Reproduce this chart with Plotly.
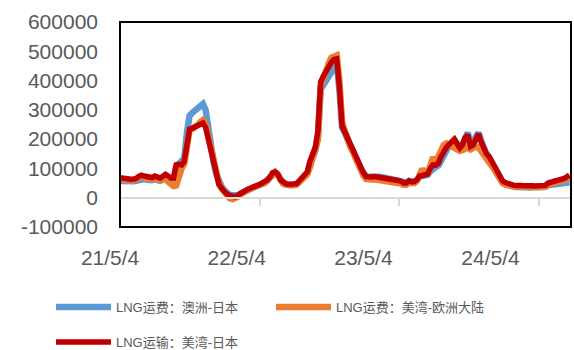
import pandas as pd
import plotly.graph_objects as go

# Weekly LNG freight rates (USD/day), starting 2021-05-04
week_dates = pd.date_range("2021-05-04", periods=169, freq="7D")

aus_japan = [
    57000, 56000, 55000, 54000, 55000, 56000, 58000, 62000, 66000, 64000,
    61000, 59000, 60000, 63000, 61000, 58000, 62000, 68000, 64000, 60000,
    60000, 105000, 115000, 118000, 135000, 220000, 280000, 290000, 298000, 305000,
    315000, 320000, 300000, 230000, 170000, 120000, 80000, 55000, 38000, 25000,
    15000, 10000, 8000, 6000, 8000, 14000, 19000, 24000, 29000, 33000,
    37000, 40000, 43000, 47000, 50000, 58000, 68000, 82000, 86000, 78000,
    58000, 50000, 46000, 43000, 43000, 44000, 46000, 54000, 64000, 72000,
    82000, 115000, 140000, 160000, 210000, 370000, 385000, 398000, 412000, 428000,
    445000, 458000, 370000, 240000, 222000, 203000, 183000, 168000, 143000, 120000,
    98000, 84000, 73000, 72000, 73000, 74000, 73000, 72000, 70000, 68000,
    67000, 65000, 64000, 62000, 60000, 57000, 52000, 51000, 57000, 54000,
    55000, 60000, 72000, 74000, 76000, 78000, 90000, 100000, 105000, 110000,
    130000, 150000, 165000, 178000, 185000, 195000, 182000, 172000, 182000, 210000,
    222000, 180000, 182000, 208000, 222000, 195000, 165000, 148000, 135000, 118000,
    98000, 82000, 65000, 52000, 46000, 42000, 40000, 38000, 37000, 38000,
    37000, 36000, 36000, 35000, 35000, 34000, 34000, 33000, 35000, 37000,
    42000, 43000, 45000, 46000, 47000, 48000, 50000, 51000, 53000,
]

usg_europe = [
    62000, 61000, 60000, 58000, 59000, 60000, 62000, 68000, 72000, 70000,
    66000, 64000, 64000, 68000, 66000, 60000, 62000, 66000, 55000, 45000,
    40000, 42000, 80000, 100000, 115000, 170000, 230000, 235000, 240000, 248000,
    258000, 265000, 250000, 210000, 160000, 118000, 75000, 48000, 32000, 20000,
    8000, -2000, -5000, -3000, 3000, 12000, 18000, 23000, 28000, 33000,
    37000, 40000, 43000, 47000, 50000, 58000, 68000, 84000, 87000, 78000,
    56000, 48000, 44000, 42000, 42000, 43000, 45000, 52000, 62000, 72000,
    80000, 105000, 135000, 160000, 200000, 380000, 410000, 435000, 458000, 478000,
    485000, 486000, 400000, 258000, 228000, 198000, 176000, 158000, 135000, 112000,
    92000, 76000, 64000, 61000, 62000, 63000, 62000, 61000, 60000, 58000,
    57000, 55000, 54000, 52000, 50000, 48000, 44000, 44000, 50000, 48000,
    50000, 58000, 75000, 99000, 80000, 82000, 110000, 138000, 120000, 140000,
    165000, 180000, 185000, 180000, 178000, 175000, 165000, 160000, 162000, 168000,
    172000, 165000, 170000, 175000, 172000, 160000, 150000, 140000, 128000, 115000,
    95000, 80000, 62000, 50000, 45000, 42000, 40000, 38000, 37000, 40000,
    38000, 37000, 38000, 36000, 37000, 36000, 36000, 35000, 37000, 39000,
    45000, 47000, 50000, 53000, 55000, 58000, 60000, 63000, 66000,
]

usg_japan = [
    68000, 66000, 64000, 62000, 63000, 64000, 66000, 73000, 77000, 74000,
    71000, 68000, 69000, 74000, 71000, 67000, 73000, 80000, 74000, 67000,
    67000, 112000, 114000, 112000, 124000, 180000, 234000, 237000, 241000, 247000,
    254000, 255000, 240000, 200000, 150000, 110000, 68000, 45000, 32000, 20000,
    12000, 8000, 5000, 3000, 8000, 15000, 20000, 25000, 30000, 35000,
    38000, 41000, 44000, 48000, 51000, 60000, 70000, 85000, 88000, 80000,
    60000, 52000, 48000, 45000, 45000, 46000, 48000, 58000, 70000, 78000,
    88000, 125000, 150000, 172000, 230000, 395000, 415000, 432000, 450000, 462000,
    472000, 474000, 380000, 245000, 225000, 205000, 185000, 170000, 145000, 122000,
    100000, 85000, 72000, 70000, 71000, 72000, 71000, 70000, 69000, 67000,
    66000, 64000, 63000, 61000, 59000, 56000, 50000, 50000, 58000, 54000,
    55000, 62000, 74000, 76000, 79000, 81000, 100000, 112000, 111000, 118000,
    140000, 160000, 172000, 182000, 190000, 200000, 185000, 170000, 180000, 205000,
    215000, 175000, 180000, 205000, 218000, 190000, 165000, 150000, 140000, 125000,
    105000, 90000, 72000, 58000, 52000, 48000, 45000, 43000, 42000, 44000,
    42000, 41000, 42000, 40000, 41000, 40000, 40000, 38000, 40000, 42000,
    50000, 52000, 55000, 58000, 60000, 63000, 66000, 71000, 77000,
]

series_names = ["LNG运费：澳洲-日本", "LNG运费：美湾-欧洲大陆", "LNG运输：美湾-日本"]
series_colors = ["#5B9BD5", "#ED7D31", "#C00000"]

y_ticks = [-100000, 0, 100000, 200000, 300000, 400000, 500000, 600000]
y_tick_text = ["-100000", "0", "100000", "200000", "300000", "400000", "500000", "600000"]

x_tick_dates = ["2021-05-04", "2022-05-04", "2023-05-04", "2024-05-04"]
x_tick_text = ["21/5/4", "22/5/4", "23/5/4", "24/5/4"]

GREY = "#595959"
TICK_FONT = dict(family="Liberation Sans, Arial, sans-serif", size=21, color=GREY)
LEGEND_FONT = dict(family="Liberation Sans, Noto Sans CJK SC, sans-serif", size=13, color=GREY)

# page layout in pixels
W, H = 574, 350
M_L, M_R, M_T, M_B = 100, 3, 22, 123
PLOT_LEFT = 120
x_dom_start = (PLOT_LEFT - M_L) / (W - M_L - M_R)

fig = go.Figure()
fig.add_trace(go.Scatter(x=week_dates, y=aus_japan, name=series_names[0], mode="lines",
                         line=dict(color=series_colors[0], width=6.5), legend="legend"))
fig.add_trace(go.Scatter(x=week_dates, y=usg_europe, name=series_names[1], mode="lines",
                         line=dict(color=series_colors[1], width=6.5), legend="legend"))
fig.add_trace(go.Scatter(x=week_dates, y=usg_japan, name=series_names[2], mode="lines",
                         line=dict(color=series_colors[2], width=5.5), legend="legend2"))
# carrier trace so the date-label axis is laid out
fig.add_trace(go.Scatter(x=[x_tick_dates[1]], y=[None], xaxis="x2", yaxis="y",
                         showlegend=False, hoverinfo="skip"))

# plot frame
fig.add_shape(type="rect", xref="x domain", yref="y domain", x0=0, x1=1, y0=0, y1=1,
              line=dict(color="black", width=2), fillcolor="rgba(0,0,0,0)", layer="above")

fig.update_layout(
    width=W, height=H,
    margin=dict(l=M_L, r=M_R, t=M_T, b=M_B),
    paper_bgcolor="white", plot_bgcolor="rgba(0,0,0,0)",
    xaxis=dict(
        type="date", range=["2021-05-04", "2024-07-27"], domain=[x_dom_start, 1],
        anchor="free", position=1 / 7,
        showline=True, linecolor="#D9D9D9", linewidth=2,
        ticks="outside", ticklen=7, tickwidth=2, tickcolor="#D9D9D9",
        tickvals=x_tick_dates, showticklabels=False,
        showgrid=False, zeroline=False,
    ),
    xaxis2=dict(
        type="date", anchor="y", side="bottom", domain=[0, 1],
        range=["2021-04-05", "2024-12-22"],
        tickvals=x_tick_dates, ticktext=x_tick_text, ticks="",
        tickfont=TICK_FONT, ticklabelstandoff=16,
        showline=False, showgrid=False, zeroline=False,
    ),
    yaxis=dict(
        range=[-100000, 600000], tickvals=y_ticks, ticktext=y_tick_text,
        anchor="x", ticks="", tickfont=TICK_FONT, ticklabelstandoff=21,
        showline=False, showgrid=False, zeroline=False,
    ),
    legend=dict(
        orientation="h", xref="container", yref="container",
        x=51 / W, y=1 - 307 / H, xanchor="left", yanchor="middle",
        font=LEGEND_FONT, itemwidth=55, entrywidth=150,
        bgcolor="rgba(0,0,0,0)",
    ),
    legend2=dict(
        orientation="h", xref="container", yref="container",
        x=51 / W, y=1 - 342 / H, xanchor="left", yanchor="middle",
        font=LEGEND_FONT, itemwidth=55,
        bgcolor="rgba(0,0,0,0)",
    ),
    showlegend=True,
)

fig.write_html("out.html")
